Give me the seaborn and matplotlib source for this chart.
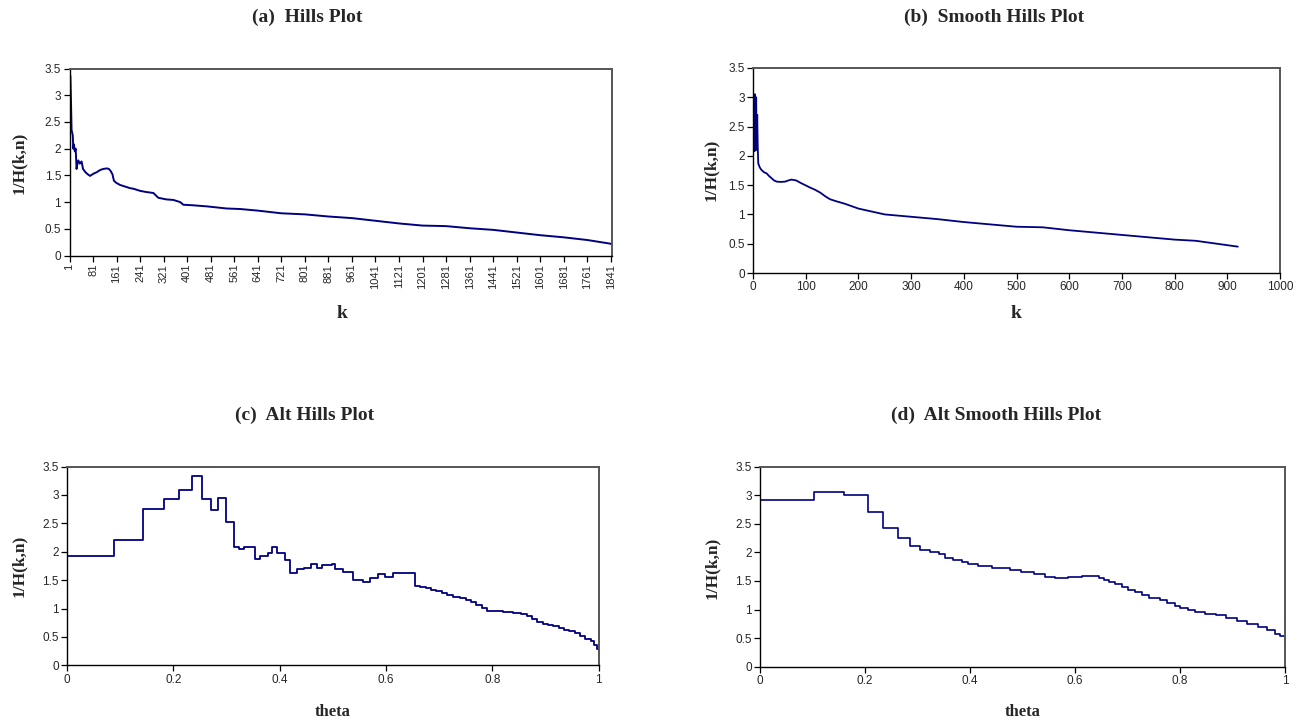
import matplotlib
matplotlib.use("Agg")
import matplotlib.pyplot as plt
import pandas as pd
import seaborn as sns
from matplotlib.ticker import FuncFormatter

# ---- data -------------------------------------------------------------
# (a) Hill plot: k versus 1/H(k,n)
hills_k = [1, 2, 3, 4, 6, 8, 10, 12, 14, 16, 19, 22, 25, 28, 31, 36, 42, 47,
           55, 63, 71, 82, 94, 105, 116, 128, 135, 141, 147, 152, 160, 173,
           190, 207, 218, 241, 260, 286, 303, 330, 354, 377, 388, 420, 467,
           535, 581, 641, 721, 801, 881, 961, 1041, 1121, 1201, 1281, 1361,
           1441, 1521, 1601, 1681, 1761, 1841, 1845]
hills_val = [1.70, 3.30, 3.38, 3.35, 2.90, 2.35, 2.30, 2.25, 2.00, 2.08, 1.95,
             2.00, 1.62, 1.72, 1.78, 1.72, 1.76, 1.62, 1.56, 1.52, 1.49, 1.53,
             1.56, 1.60, 1.62, 1.63, 1.62, 1.58, 1.52, 1.40, 1.36, 1.32, 1.29,
             1.26, 1.25, 1.21, 1.19, 1.17, 1.08, 1.05, 1.04, 1.00, 0.95, 0.94,
             0.92, 0.88, 0.87, 0.84, 0.79, 0.77, 0.73, 0.70, 0.65, 0.60, 0.56,
             0.55, 0.51, 0.48, 0.43, 0.38, 0.34, 0.29, 0.22, 0.20]

# (b) Smoothed Hill plot
smooth_k = [1, 2, 3, 4, 5, 6, 7, 8, 9, 10, 13, 16, 21, 26, 30, 35, 40, 45, 53,
            61, 67, 73, 82, 90, 99, 108, 118, 128, 137, 146, 156, 175, 200,
            225, 250, 275, 300, 350, 400, 450, 500, 550, 600, 650, 700, 750,
            800, 840, 880, 920]
smooth_val = [2.10, 3.05, 2.08, 3.05, 2.20, 3.00, 2.10, 2.70, 2.15, 1.87, 1.80,
              1.76, 1.72, 1.70, 1.66, 1.62, 1.58, 1.56, 1.555, 1.56, 1.58,
              1.595, 1.58, 1.54, 1.50, 1.46, 1.42, 1.37, 1.31, 1.26, 1.23,
              1.18, 1.10, 1.05, 1.00, 0.98, 0.96, 0.92, 0.87, 0.83, 0.79, 0.78,
              0.73, 0.69, 0.65, 0.61, 0.57, 0.55, 0.50, 0.45]

# (c) Alternative Hill plot on the theta scale (step function)
alt_theta = [0, 0, 0.089, 0.1436, 0.183, 0.2107, 0.2345, 0.2534, 0.270, 0.2847,
             0.299, 0.315, 0.3236, 0.3337, 0.3537, 0.363, 0.379, 0.385, 0.395,
             0.41, 0.42, 0.432, 0.445, 0.46, 0.47, 0.479, 0.498, 0.504, 0.52,
             0.539, 0.557, 0.57, 0.586, 0.598, 0.614, 0.645, 0.655, 0.665,
             0.675, 0.685, 0.695, 0.705, 0.715, 0.727, 0.74, 0.75, 0.76, 0.77,
             0.78, 0.79, 0.80, 0.82, 0.84, 0.855, 0.865, 0.875, 0.885, 0.895,
             0.905, 0.915, 0.925, 0.935, 0.945, 0.955, 0.965, 0.975, 0.985,
             0.992, 0.997, 1.0]
alt_val = [1.67, 1.93, 2.20, 2.76, 2.92, 3.09, 3.34, 2.92, 2.74, 2.95,
           2.52, 2.08, 2.04, 2.08, 1.87, 1.92, 1.97, 2.08, 1.98,
           1.85, 1.62, 1.70, 1.71, 1.79, 1.71, 1.76, 1.79, 1.70, 1.65,
           1.50, 1.47, 1.53, 1.60, 1.55, 1.62, 1.62, 1.40, 1.38,
           1.36, 1.33, 1.31, 1.27, 1.24, 1.21, 1.19, 1.15, 1.11, 1.06,
           1.01, 0.96, 0.95, 0.94, 0.92, 0.90, 0.86, 0.82, 0.77, 0.73,
           0.71, 0.69, 0.66, 0.63, 0.60, 0.56, 0.52, 0.47, 0.43,
           0.36, 0.28, 0.21]

# (d) Alternative smoothed Hill plot on the theta scale (step function)
alt_smooth_theta = [0, 0, 0.103, 0.1606, 0.2063, 0.235, 0.263, 0.2857, 0.305,
                    0.324, 0.34, 0.352, 0.367, 0.384, 0.397, 0.416, 0.441,
                    0.476, 0.498, 0.521, 0.543, 0.562, 0.587, 0.613, 0.628,
                    0.645, 0.655, 0.664, 0.676, 0.689, 0.70, 0.714, 0.727,
                    0.74, 0.762, 0.775, 0.79, 0.80, 0.815, 0.829, 0.848,
                    0.868, 0.888, 0.908, 0.928, 0.948, 0.965, 0.98, 0.99, 1.0]
alt_smooth_val = [2.51, 2.91, 3.05, 3.00, 2.70, 2.43, 2.25, 2.12, 2.05, 2.00,
                  1.97, 1.90, 1.87, 1.83, 1.80, 1.77, 1.72, 1.70, 1.66, 1.62,
                  1.57, 1.55, 1.57, 1.59, 1.58, 1.55, 1.52, 1.48, 1.44, 1.40,
                  1.35, 1.30, 1.25, 1.20, 1.17, 1.12, 1.07, 1.03, 0.99, 0.96,
                  0.93, 0.90, 0.85, 0.80, 0.75, 0.70, 0.65, 0.58, 0.53, 0.46]

titles = ["(a)  Hills Plot", "(b)  Smooth Hills Plot",
          "(c)  Alt Hills Plot", "(d)  Alt Smooth Hills Plot"]
y_label = "1/H(k,n)"
k_ticks = list(range(1, 1842, 80))
b_ticks = list(range(0, 1001, 100))
theta_ticks = [0, 0.2, 0.4, 0.6, 0.8, 1.0]
y_ticks = [0, 0.5, 1, 1.5, 2, 2.5, 3, 3.5]

# ---- figure -----------------------------------------------------------
sns.set_theme(style="white")
plt.rcParams['font.family'] = ['Liberation Sans', 'DejaVu Sans']

LINE = '#000080'
SERIF = ['Liberation Serif', 'DejaVu Serif']
W, H = 1307, 722
fig = plt.figure(figsize=(W / 100, H / 100), dpi=100)
fig.patch.set_facecolor('white')


def axes_px(left, top, right, bottom):
    return fig.add_axes([left / W, 1 - bottom / H, (right - left) / W,
                         (bottom - top) / H])


def text_px(x, y, s, **kw):
    fig.text(x / W, 1 - y / H, s, ha='center', va='center',
             family=SERIF, weight='bold', **kw)


def style(ax):
    for s in ['left', 'bottom']:
        ax.spines[s].set_color('black')
        ax.spines[s].set_linewidth(1.0)
    for s in ['top', 'right']:
        ax.spines[s].set_color('#555555')
        ax.spines[s].set_linewidth(1.4)
    ax.set_facecolor('white')
    ax.grid(False)
    ax.tick_params(axis='both', which='major', direction='out', length=4,
                   width=0.9, color='black', labelsize=8.5, pad=2,
                   bottom=True, left=True, top=False, right=False)
    ax.set_ylim(0, 3.5)
    ax.set_yticks(y_ticks)
    ax.yaxis.set_major_formatter(FuncFormatter(lambda v, p: f"{v:g}"))
    ax.set_xlabel('')
    ax.set_ylabel('')
    leg = ax.get_legend()
    if leg is not None:
        leg.remove()


# (a)
ax_a = axes_px(69.5, 68.5, 612, 255.5)
df_a = pd.DataFrame({"k": hills_k, "v": hills_val})
sns.lineplot(data=df_a, x="k", y="v", ax=ax_a, color=LINE, linewidth=1.4,
             estimator=None, sort=False)
style(ax_a)
ax_a.set_xlim(1, 1845)
ax_a.set_xticks(k_ticks)
ax_a.set_xticklabels([str(k) for k in k_ticks], rotation=90, fontsize=8)

# (b)
ax_b = axes_px(753, 68, 1280, 273)
df_b = pd.DataFrame({"k": smooth_k, "v": smooth_val})
sns.lineplot(data=df_b, x="k", y="v", ax=ax_b, color=LINE, linewidth=1.3,
             estimator=None, sort=False)
style(ax_b)
ax_b.set_xlim(0, 1000)
ax_b.set_xticks(b_ticks)
ax_b.xaxis.set_major_formatter(FuncFormatter(lambda v, p: f"{v:g}"))

# (c)
ax_c = axes_px(67, 466.5, 598.5, 665.3)
df_c = pd.DataFrame({"theta": alt_theta, "v": alt_val})
sns.lineplot(data=df_c, x="theta", y="v", ax=ax_c, color=LINE, linewidth=1.3,
             estimator=None, sort=False, drawstyle='steps-post')
style(ax_c)
ax_c.set_xlim(0, 1)
ax_c.set_xticks(theta_ticks)
ax_c.xaxis.set_major_formatter(FuncFormatter(lambda v, p: f"{v:g}"))

# (d)
ax_d = axes_px(760, 466.7, 1285, 666.7)
df_d = pd.DataFrame({"theta": alt_smooth_theta, "v": alt_smooth_val})
sns.lineplot(data=df_d, x="theta", y="v", ax=ax_d, color=LINE, linewidth=1.2,
             estimator=None, sort=False, drawstyle='steps-post')
style(ax_d)
ax_d.set_xlim(0, 1)
ax_d.set_xticks(theta_ticks)
ax_d.xaxis.set_major_formatter(FuncFormatter(lambda v, p: f"{v:g}"))

# titles and axis labels
text_px(307, 17, titles[0], fontsize=14)
text_px(994, 17, titles[1], fontsize=14)
text_px(305, 415, titles[2], fontsize=14)
text_px(996, 415, titles[3], fontsize=14)

text_px(342, 313, "k", fontsize=14)
text_px(1016, 313, "k", fontsize=14)
text_px(333, 712, "theta", fontsize=12)
text_px(1023, 712, "theta", fontsize=12)

text_px(19, 163, y_label, fontsize=12.5, rotation=90)
text_px(711, 170, y_label, fontsize=12.5, rotation=90)
text_px(19, 566, y_label, fontsize=12.5, rotation=90)
text_px(712, 568, y_label, fontsize=12.5, rotation=90)

fig.savefig("out.png", dpi=100, facecolor='white')
